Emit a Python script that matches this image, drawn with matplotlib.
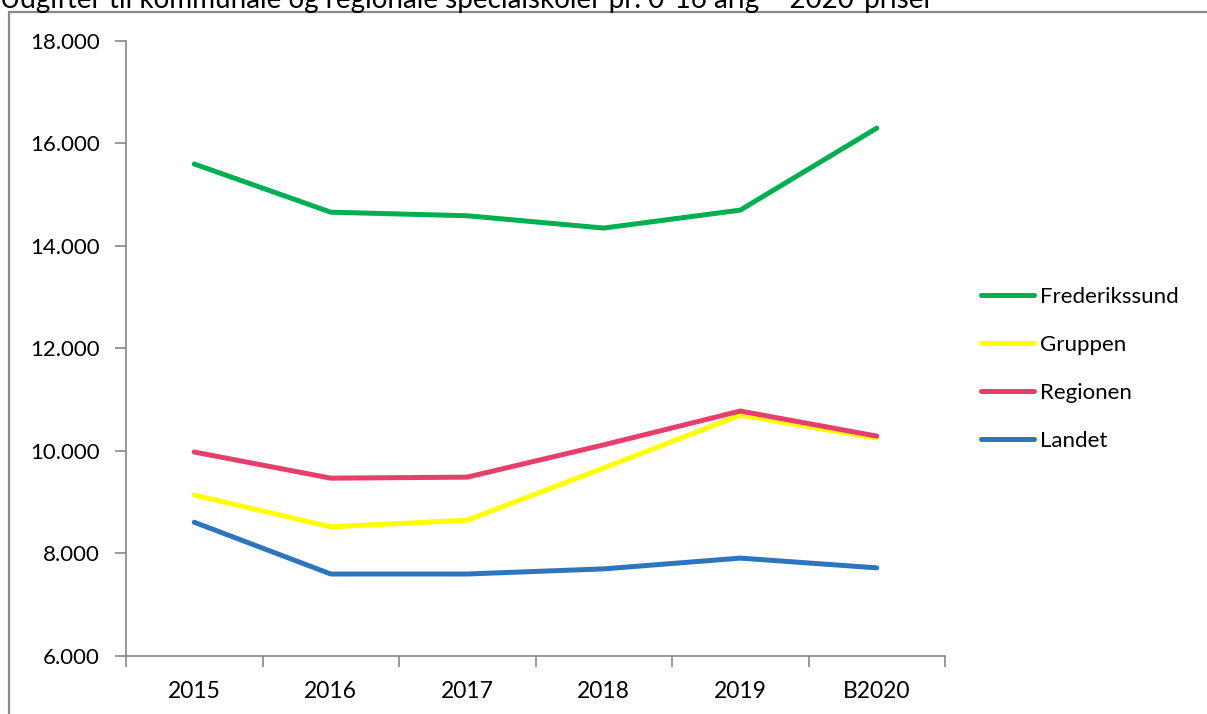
import matplotlib.pyplot as plt
from matplotlib.patches import Rectangle

years = ["2015", "2016", "2017", "2018", "2019", "B2020"]
frederikssund = [15600, 14660, 14590, 14350, 14700, 16300]
gruppen = [9140, 8520, 8650, 9670, 10700, 10250]
regionen = [9980, 9470, 9490, 10120, 10780, 10290]
landet = [8610, 7600, 7600, 7700, 7910, 7720]

series = [
    ("Frederikssund", frederikssund, "#00B050"),
    ("Gruppen", gruppen, "#FFFF00"),
    ("Regionen", regionen, "#E83E6C"),
    ("Landet", landet, "#2E75C0"),
]

fig = plt.figure(figsize=(12.07, 7.14), dpi=100)
ax = fig.add_axes([126 / 1207, 1 - 656 / 714, (945 - 126) / 1207, (656 - 41) / 714])

x = list(range(len(years)))
for name, vals, col in series:
    ax.plot(x, vals, color=col, lw=3.6, solid_capstyle="round", label=name)

ax.set_xlim(-0.5, len(years) - 0.5)
ax.set_ylim(6000, 18000)
ax.set_yticks(range(6000, 18001, 2000))
ax.set_yticklabels([f"{v:,}".replace(",", ".") for v in range(6000, 18001, 2000)],
                   family="Lato", fontsize=16)
ax.set_xticks([i - 0.5 for i in range(len(years) + 1)])
ax.set_xticklabels([])
ax.set_xticks(x, minor=True)
ax.set_xticklabels(years, minor=True, family="Lato", fontsize=16.5)
ax.tick_params(axis="x", which="minor", length=0, pad=18)
ax.tick_params(axis="x", which="major", length=8, color="#888888", width=1.2)
ax.tick_params(axis="y", length=8, color="#888888", width=1.2, pad=11)

for s in ["top", "right"]:
    ax.spines[s].set_visible(False)
for s in ["left", "bottom"]:
    ax.spines[s].set_color("#888888")
    ax.spines[s].set_linewidth(1.2)

leg = ax.legend(loc="upper left", bbox_to_anchor=(961 / 1207, 1 - 267 / 714),
                bbox_transform=fig.transFigure, frameon=False,
                prop={"family": "Lato", "size": 16},
                handlelength=2.4, handletextpad=0.25, labelspacing=1.26)

fig.patches.append(Rectangle((9 / 1207, -0.1), 1.2, 1.1 - 12 / 714, transform=fig.transFigure,
                             fill=False, edgecolor="#888888", lw=1.6))

fig.text(0.0, 1 - 8 / 714, "Udgifter til kommunale og regionale specialskoler pr. 0-16 årig – 2020-priser",
         family="Lato", fontsize=20, va="baseline", ha="left")

fig.savefig("out.png", dpi=100)
